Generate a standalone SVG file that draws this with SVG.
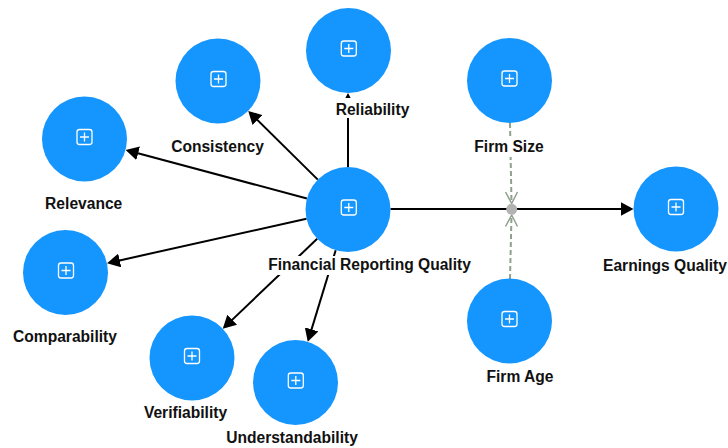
<svg xmlns="http://www.w3.org/2000/svg" width="728" height="448" viewBox="0 0 728 448">
  <defs>
    <marker id="arrow" markerUnits="userSpaceOnUse" markerWidth="13" markerHeight="14" viewBox="0 0 13 14" refX="7" refY="7" orient="auto">
      <path d="M0,0 L13,7 L0,14 z" fill="#000"/>
    </marker>
    <g id="icon">
      <rect x="-7.5" y="-7.5" width="15" height="15" rx="2.5" fill="none" stroke="#fff" stroke-width="1.3"/>
      <path d="M-4.5,0 H4.5 M0,-4.5 V4.5" stroke="#fff" stroke-width="1.3" fill="none"/>
    </g>
  </defs>
  <style>
    .node { fill: #1595fe; }
    .lbl { font-family: "Liberation Sans", Arial, sans-serif; font-weight: bold; font-size: 15.6px; fill: #111; text-anchor: middle; }
    .bg { fill: #fff; }
    .path { stroke: #000; stroke-width: 2; fill: none; marker-end: url(#arrow); }
    .mod { stroke: #8fa08d; stroke-width: 2; fill: none; stroke-dasharray: 5 3; }
    .chev { stroke: #8fa08d; stroke-width: 1.5; fill: none; }
  </style>
  <rect width="728" height="448" fill="#fff"/>

  <g id="connectors">
    <line class="path" x1="348" y1="167" x2="348" y2="99"/>
    <line class="path" x1="317.8" y1="179.6" x2="252.5" y2="115.1"/>
    <line class="path" x1="306.9" y1="198.5" x2="131.4" y2="151.5"/>
    <line class="path" x1="306.5" y1="218.8" x2="112.9" y2="261.9"/>
    <line class="path" x1="317.2" y1="238.8" x2="227.1" y2="324.6"/>
    <line class="path" x1="335.7" y1="250.2" x2="309.5" y2="336.1"/>
    <line class="path" x1="390.5" y1="209" x2="627.5" y2="209"/>
    <line class="mod" x1="510" y1="123" x2="511.5" y2="203"/>
    <line class="mod" x1="510" y1="279" x2="511.5" y2="215.5"/>
    <polyline class="chev" points="505.5,192 511.7,203.5 517.5,192"/>
    <polyline class="chev" points="505.5,226.5 511.7,215 517.5,226.5"/>
    <circle cx="511.7" cy="209.3" r="5.5" fill="#b3b3b3"/>
  </g>

  <g id="node-frq">
    <circle class="node" cx="348" cy="209.5" r="42.5"/>
    <use href="#icon" x="348.8" y="207.5"/>
    <rect class="bg" x="265" y="256" width="209" height="19"/>
    <text class="lbl" x="369.5" y="270">Financial Reporting Quality</text>
  </g>
  <g id="node-reliability">
    <circle class="node" cx="348.5" cy="50.5" r="42.5"/>
    <use href="#icon" x="348.8" y="48.5"/>
    <rect class="bg" x="334" y="98" width="77" height="20"/>
    <text class="lbl" x="372.5" y="114.5">Reliability</text>
  </g>
  <g id="node-consistency">
    <circle class="node" cx="218" cy="81" r="42.5"/>
    <use href="#icon" x="218.5" y="79"/>
    <rect class="bg" x="169" y="138" width="98" height="19"/>
    <text class="lbl" x="217.5" y="152">Consistency</text>
  </g>
  <g id="node-relevance">
    <circle class="node" cx="84.5" cy="139" r="42.5"/>
    <use href="#icon" x="84.5" y="137"/>
    <rect class="bg" x="42" y="195" width="84" height="19"/>
    <text class="lbl" x="83.7" y="209">Relevance</text>
  </g>
  <g id="node-comparability">
    <circle class="node" cx="65.5" cy="272.5" r="42.5"/>
    <use href="#icon" x="66" y="270.5"/>
    <rect class="bg" x="10" y="328" width="110" height="19"/>
    <text class="lbl" x="65" y="342">Comparability</text>
  </g>
  <g id="node-verifiability">
    <circle class="node" cx="192" cy="358" r="42.5"/>
    <use href="#icon" x="192" y="356"/>
    <rect class="bg" x="141" y="404" width="90" height="19"/>
    <text class="lbl" x="185.5" y="418">Verifiability</text>
  </g>
  <g id="node-understandability">
    <circle class="node" cx="295.5" cy="382.5" r="42.5"/>
    <use href="#icon" x="295.8" y="380.5"/>
    <rect class="bg" x="224" y="429" width="136" height="19"/>
    <text class="lbl" x="292" y="443">Understandability</text>
  </g>
  <g id="node-firmsize">
    <circle class="node" cx="509.5" cy="80.5" r="42.5"/>
    <use href="#icon" x="509.5" y="78.5"/>
    <rect class="bg" x="472" y="136" width="75" height="21"/>
    <text class="lbl" x="509" y="152">Firm Size</text>
  </g>
  <g id="node-firmage">
    <circle class="node" cx="509.5" cy="321" r="42.5"/>
    <use href="#icon" x="509.5" y="319"/>
    <rect class="bg" x="484" y="367" width="72" height="19"/>
    <text class="lbl" x="520" y="381.5">Firm Age</text>
  </g>
  <g id="node-earnings">
    <circle class="node" cx="676" cy="209" r="42.5"/>
    <use href="#icon" x="676" y="207"/>
    <rect class="bg" x="600" y="256" width="128" height="19"/>
    <text class="lbl" x="665" y="270.5">Earnings Quality</text>
  </g>
</svg>
